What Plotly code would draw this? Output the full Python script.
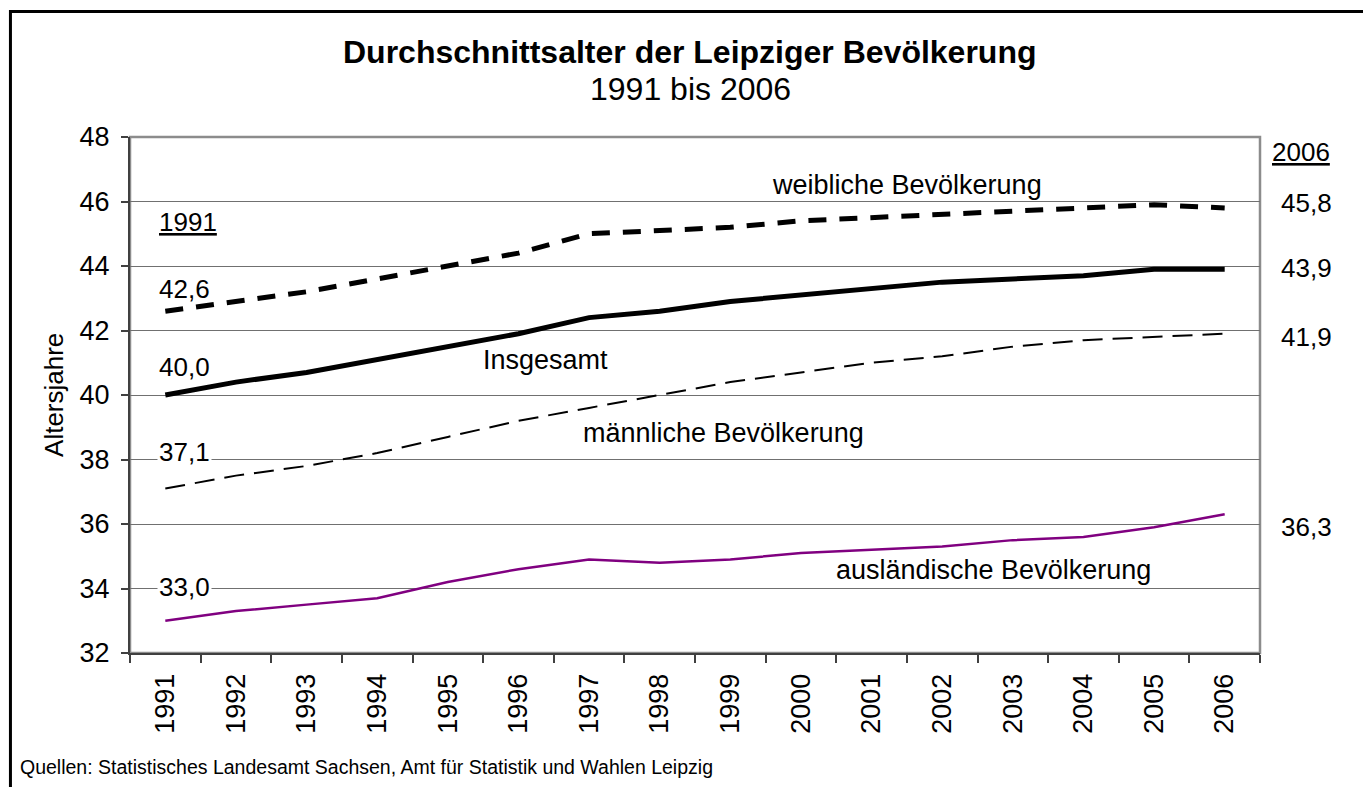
import plotly.graph_objects as go

years = [str(y) for y in range(1991, 2007)]
insgesamt = [40.0, 40.4, 40.7, 41.1, 41.5, 41.9, 42.4, 42.6, 42.9, 43.1, 43.3, 43.5, 43.6, 43.7, 43.9, 43.9]
weiblich = [42.6, 42.9, 43.2, 43.6, 44.0, 44.4, 45.0, 45.1, 45.2, 45.4, 45.5, 45.6, 45.7, 45.8, 45.9, 45.8]
maennlich = [37.1, 37.5, 37.8, 38.2, 38.7, 39.2, 39.6, 40.0, 40.4, 40.7, 41.0, 41.2, 41.5, 41.7, 41.8, 41.9]
auslaendisch = [33.0, 33.3, 33.5, 33.7, 34.2, 34.6, 34.9, 34.8, 34.9, 35.1, 35.2, 35.3, 35.5, 35.6, 35.9, 36.3]
y_ticks = [32, 34, 36, 38, 40, 42, 44, 46, 48]

FONT = "Liberation Sans, Arial, sans-serif"

def fmt(v):
    return f"{v:.1f}".replace(".", ",")

fig = go.Figure()
fig.add_trace(go.Scatter(x=years, y=auslaendisch, mode="lines", name="ausländische Bevölkerung",
                         line=dict(color="#800080", width=2.5)))
fig.add_trace(go.Scatter(x=years, y=maennlich, mode="lines", name="männliche Bevölkerung",
                         line=dict(color="black", width=2, dash="20px,10px")))
fig.add_trace(go.Scatter(x=years, y=insgesamt, mode="lines", name="Insgesamt",
                         line=dict(color="black", width=5)))
fig.add_trace(go.Scatter(x=years, y=weiblich, mode="lines", name="weibliche Bevölkerung",
                         line=dict(color="black", width=5, dash="18px,13px")))

ann = []
def A(text, x, y, xref="x", yref="y", xanchor="center", size=26, bg=None, **kw):
    d = dict(text=text, x=x, y=y, xref=xref, yref=yref, xanchor=xanchor, yanchor="middle",
             showarrow=False, font=dict(family=FONT, size=size, color="black"))
    if bg:
        d["bgcolor"] = bg
    d.update(kw)
    ann.append(d)

# Title
A("<b>Durchschnittsalter der Leipziger Bevölkerung</b>", 0.4956, 1.1647, xref="paper", yref="paper", size=32)
A("1991 bis 2006", 0.4956, 1.093, xref="paper", yref="paper", size=32)

# y axis title
A("Altersjahre", -0.0673, 0.5, xref="paper", yref="paper", size=26, textangle=-90)

# left labels (1991)
A("<u>1991</u>", -0.113, 45.37, xanchor="left")
A(fmt(weiblich[0]), -0.113, 43.30, xanchor="left")
A(fmt(insgesamt[0]), -0.113, 40.86, xanchor="left")
A(fmt(maennlich[0]), -0.113, 38.22, xanchor="left", bg="white", borderpad=1)
A(fmt(auslaendisch[0]), -0.113, 34.06, xanchor="left", bg="white", borderpad=1)

# right labels (2006)
A("<u>2006</u>", 1.0088, 47.54, xref="paper", xanchor="left")
A(fmt(weiblich[-1]), 1.0168, 45.96, xref="paper", xanchor="left")
A(fmt(insgesamt[-1]), 1.0168, 43.93, xref="paper", xanchor="left")
A(fmt(maennlich[-1]), 1.0168, 41.79, xref="paper", xanchor="left")
A(fmt(auslaendisch[-1]), 1.0168, 35.92, xref="paper", xanchor="left")

# series labels
A("weibliche Bevölkerung", 10.5, 46.51, size=27)
A("Insgesamt", 5.38, 41.09, size=27)
A("männliche Bevölkerung", 7.9, 38.82, size=27)
A("ausländische Bevölkerung", 11.72, 34.57, size=27)

# source
A("Quellen: Statistisches Landesamt Sachsen, Amt für Statistik und Wahlen Leipzig",
  -0.0991, -0.221, xref="paper", yref="paper", xanchor="left", size=19.5)

shapes = [
    dict(type="rect", xref="paper", yref="paper", x0=0, x1=1, y0=0, y1=1,
         line=dict(color="#8c8c8c", width=2.5), layer="below"),
    dict(type="rect", xref="paper", yref="paper", x0=-0.1058, x1=1.0951, y0=-0.3, y1=1.2432,
         line=dict(color="black", width=3)),
]

fig.update_layout(
    width=1363, height=779,
    margin=dict(l=122, r=111, t=129, b=134),
    paper_bgcolor="white", plot_bgcolor="white",
    showlegend=False,
    annotations=ann, shapes=shapes,
    font=dict(family=FONT, size=26, color="black"),
    xaxis=dict(type="category", categoryorder="array", categoryarray=years,
               tickson="boundaries", ticks="outside", ticklen=8, tickcolor="#404040", tickwidth=1.5,
               tickangle=-90, tickfont=dict(family=FONT, size=27), ticklabelstandoff=8,
               showline=True, linecolor="#404040", linewidth=2,
               showgrid=False, zeroline=False, range=[-0.5, 15.5]),
    yaxis=dict(range=[32, 48], tickvals=y_ticks, ticks="outside", ticklen=7, tickcolor="#404040",
               tickwidth=1.5, tickfont=dict(family=FONT, size=27), ticklabelstandoff=6,
               showline=True, linecolor="#404040", linewidth=2,
               showgrid=True, gridcolor="#707070", gridwidth=1, zeroline=False),
)

fig.write_html("out.html")
